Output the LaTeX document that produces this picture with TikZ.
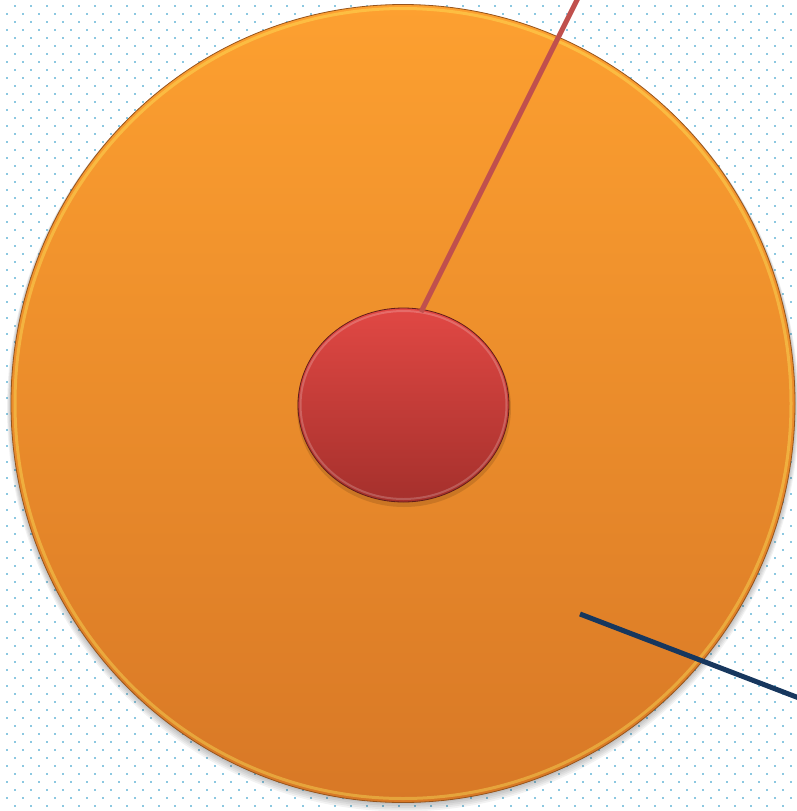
\documentclass[tikz,border=0pt]{standalone}
\usetikzlibrary{shapes.geometric}
\definecolor{dotc}{RGB}{140,200,225}
\definecolor{orTop}{RGB}{253,160,48}
\definecolor{orBot}{RGB}{216,120,38}
\definecolor{rdTop}{RGB}{225,72,68}
\definecolor{rdBot}{RGB}{165,48,44}
\definecolor{lineRed}{RGB}{192,80,77}
\definecolor{lineBlue}{RGB}{23,55,94}
\tikzset{
  dotsq/.style={fill=dotc},
  bigdisc/.style={top color=orTop,bottom color=orBot,draw=orBot!70!black,line width=0.8pt},
  smalldisc/.style={top color=rdTop,bottom color=rdBot,draw=rdBot!60!black,line width=0.8pt},
  leader/.style={line width=5pt},
}
\begin{document}
\begin{tikzpicture}[x=1pt,y=-1pt]
\useasboundingbox (0,0) rectangle (797,811);
\fill[white] (0,0) rectangle (797,811);
% dotted background
\foreach \r in {0,...,101}{
  \pgfmathsetmacro{\yy}{6+8*\r}
  \pgfmathsetmacro{\off}{mod(\r,2)==0 ? 15 : 7}
  \foreach \c in {0,...,50}{
    \fill[dotsq] ({\off+16*\c-1},{\yy-1}) rectangle ++(2,2);
  }
}
% shadow of big disc
\foreach \k in {1,...,5}{
  \fill[black,opacity=0.05] (403,{403.5+\k}) ellipse ({392+\k*0.8} and {399+\k*0.8});
}
% big disc
\node[bigdisc,ellipse,minimum width=784pt,minimum height=798pt,inner sep=0pt] (big) at (403,403.5) {};
% rim highlights
\draw[yellow!60!white,opacity=0.35,line width=3pt] (403,403.5) ellipse (388 and 395);
% small disc shadow
\fill[black,opacity=0.12] (404,408) ellipse (107 and 99);
\node[smalldisc,ellipse,minimum width=211pt,minimum height=194pt,inner sep=0pt] (small) at (403.5,405) {};
\draw[white,opacity=0.2,line width=2pt] (403.5,405) ellipse (103 and 94);
% leader lines
\coordinate (redEnd) at (578,-2);
\coordinate (redStart) at (421,312);
\coordinate (blueStart) at (580,614);
\coordinate (blueEnd) at (799,698);
\draw[leader,lineRed] (redStart) -- (redEnd);
\draw[leader,lineBlue] (blueStart) -- (blueEnd);
\end{tikzpicture}
\end{document}
